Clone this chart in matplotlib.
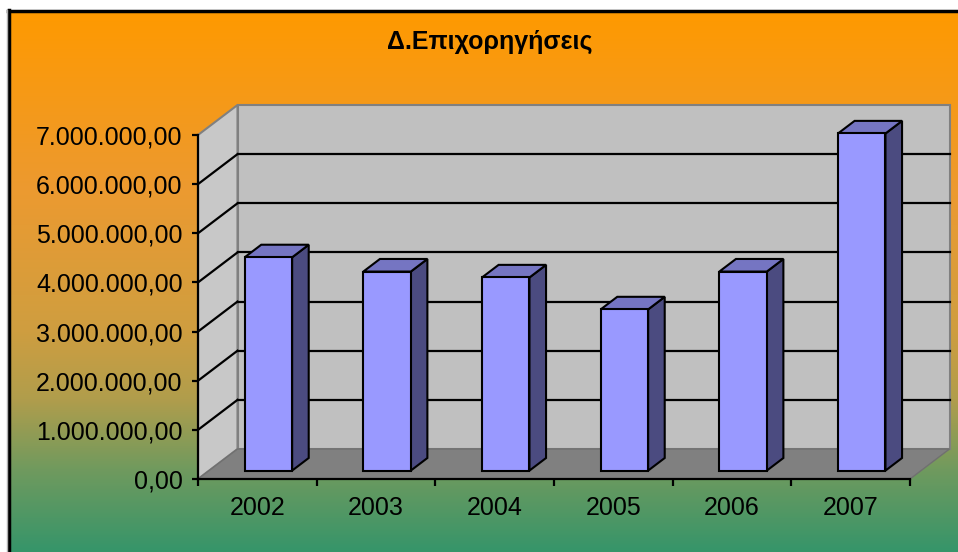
import matplotlib
matplotlib.use("Agg")
import matplotlib.pyplot as plt
import numpy as np
from matplotlib.patches import Polygon, Rectangle
from matplotlib.colors import LinearSegmentedColormap

matplotlib.rcParams['font.family'] = ['Liberation Sans', 'DejaVu Sans']

# data
years = ["2002", "2003", "2004", "2005", "2006", "2007"]
values = [4340000, 4050000, 3930000, 3280000, 4050000, 6860000]
yticks = [0, 1000000, 2000000, 3000000, 4000000, 5000000, 6000000, 7000000]
title = "Δ.Επιχορηγήσεις"

W, H = 958, 552
fig = plt.figure(figsize=(W / 100, H / 100), dpi=100)

# background gradient (orange -> sea green), pixel coords
bg = fig.add_axes([0, 0, 1, 1])
bg.set_xlim(0, W)
bg.set_ylim(H, 0)
bg.axis("off")
stops = [(10, "#ff9900"), (190, "#ec9a30"), (330, "#cf9e40"), (400, "#b09d4c"),
         (470, "#709a5e"), (552, "#36956a")]
cmap = LinearSegmentedColormap.from_list(
    "grad", [((y - 10) / (H - 10), c) for y, c in stops])
grad = np.linspace(0, 1, 256).reshape(-1, 1)
bg.imshow(grad, cmap=cmap, aspect="auto", extent=[8, W, H, 10], zorder=0)
bg.plot([9, 9], [10, H], color="black", lw=2.5, zorder=1)
bg.plot([8, W], [10.5, 10.5], color="black", lw=2.5, zorder=1)
bg.plot([7, 7], [10, H], color="#b0b0b0", lw=1, zorder=1)

fig.text(490 / W, 1 - 42 / H, title, ha="center", va="center",
         fontsize=18, fontweight="bold")

# front plane axes
x0px, x1px, y0px, y1px = 198, 910, 479, 135
ax = fig.add_axes([x0px / W, 1 - y0px / H, (x1px - x0px) / W, (y0px - y1px) / H])
ax.set_xlim(-0.5, len(years) - 0.5)
ax.set_ylim(0, 7000000)
ax.patch.set_visible(False)

ymax = 7000000
DX = 39.5 / ((x1px - x0px) / len(years))
DY = 30 * ymax / (y0px - y1px)
xl, xr = -0.5, len(years) - 0.5
wall = "#c0c0c0"
edge = "#808080"

# back wall, side wall, floor
ax.add_patch(Polygon([(xl + DX, DY), (xr + DX, DY), (xr + DX, ymax + DY), (xl + DX, ymax + DY)],
                     closed=True, fc=wall, ec=edge, lw=1.5, clip_on=False, zorder=1))
ax.add_patch(Polygon([(xl, 0), (xl + DX, DY), (xl + DX, ymax + DY), (xl, ymax)],
                     closed=True, fc="#c8c8c8", ec=edge, lw=1.5, clip_on=False, zorder=1))
ax.add_patch(Polygon([(xl, 0), (xr, 0), (xr + DX, DY), (xl + DX, DY)],
                     closed=True, fc="#808080", ec="#707070", lw=1, clip_on=False, zorder=1))

for v in yticks[1:-1]:
    ax.plot([xl + DX, xr + DX], [v + DY, v + DY], color="black", lw=1.6, clip_on=False, zorder=2)
    ax.plot([xl, xl + DX], [v, v + DY], color="black", lw=1.6, clip_on=False, zorder=2)

# 3d bars
bw = 0.40
f0, f1 = 0.28, 0.70
ddx, ddy = (f1 - f0) * DX, (f1 - f0) * DY
for i, v in enumerate(values):
    bx = i - bw / 2 + f0 * DX
    by = f0 * DY
    ax.add_patch(Polygon([(bx + bw, by), (bx + bw, by + v), (bx + bw + ddx, by + v + ddy),
                          (bx + bw + ddx, by + ddy)], closed=True, fc="#4b4b80", ec="black",
                         lw=1.5, clip_on=False, zorder=3))
    ax.add_patch(Polygon([(bx, by + v), (bx + bw, by + v), (bx + bw + ddx, by + v + ddy),
                          (bx + ddx, by + v + ddy)], closed=True, fc="#7575c2", ec="black",
                         lw=1.5, clip_on=False, zorder=3))
    ax.add_patch(Rectangle((bx, by), bw, v, fc="#9999ff", ec="black", lw=1.5,
                           clip_on=False, zorder=4))

# axes lines and ticks
for s in ["top", "right"]:
    ax.spines[s].set_visible(False)
for s in ["left", "bottom"]:
    ax.spines[s].set_linewidth(1.6)
    ax.spines[s].set_zorder(5)

ax.set_yticks(yticks)
ax.set_yticklabels([f"{v:,.2f}".replace(",", "X").replace(".", ",").replace("X", ".") for v in yticks])
ax.tick_params(axis="y", length=4, width=1.6, pad=7, labelsize=18)

ax.set_xticks(np.arange(-0.5, len(years)), labels=[])
ax.set_xticks(np.arange(len(years)), labels=years, minor=True)
ax.tick_params(axis="x", which="major", length=5, width=1.6)
ax.tick_params(axis="x", which="minor", length=0, pad=12, labelsize=18)

fig.savefig("out.png", dpi=100)
